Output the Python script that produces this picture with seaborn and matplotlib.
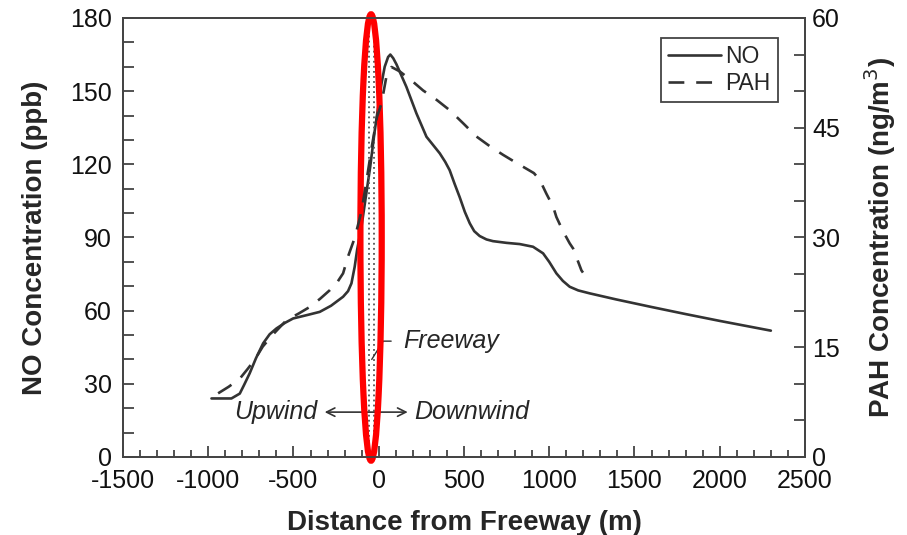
import numpy as np
import pandas as pd
import matplotlib
matplotlib.use('Agg')
import matplotlib.pyplot as plt
import seaborn as sns
from matplotlib.patches import Ellipse
from matplotlib.ticker import MultipleLocator

# data
no_x = [-981, -864, -815, -790, -757, -720, -678, -640, -600, -550, -502, -420, -346,
        -280, -209, -180, -160, -141, -127, -100, -75, -50, -25, 0, 16, 35, 55, 68,
        85, 104, 162, 221, 280, 358, 390, 416, 445, 475, 505, 534, 560, 592, 632, 670,
        749, 827, 905, 964, 1000, 1042, 1080, 1120, 1170, 1237, 1393, 1600, 1800,
        2000, 2150, 2300]
no_ppb = [24, 24, 26, 29.5, 34.3, 40.5, 46.6, 50.3, 52.7, 55, 56.8, 58.2, 59.5,
          62, 65.7, 68, 71.2, 78, 84.8, 95, 107, 119, 133, 145, 153, 160, 164, 165,
          163.5, 161, 151.8, 140.9, 131.3, 124.5, 121, 117.6, 112, 106.5, 100.5, 95.8, 92.6, 90.6,
          89.2, 88.5, 87.8, 87.3, 86.2, 83.5, 80, 75.3, 72.2, 69.8, 68.3, 67.1, 64.6, 61.5, 58.6,
          55.8, 53.8, 51.8]

pah_x = [-942, -880, -815, -770, -727, -680, -610, -541, -470, -405, -345, -287, -240,
         -209, -180, -140, -100, -70, -40, -10, 16, 45, 75, 123, 190, 260, 340, 416,
         500, 573, 650, 729, 800, 866, 910, 944, 983, 1023, 1042, 1080, 1120, 1140,
         1189, 1198]
pah_ng = [8.7, 9.6, 10.7, 12, 13.3, 15.1, 17, 18.7, 19.6, 20.5, 21.6, 22.8, 24,
          25.1, 27.4, 30, 33.7, 38, 42.5, 46.5, 48.3, 52, 53.3, 52.7, 51.5, 50.1, 48.8, 47.4,
          45.5, 43.8, 42.5, 41.3, 40.3, 39.4, 38.8, 37.9, 36, 34.2, 32.8, 30.9, 29.2, 28.5,
          25.5, 25.2]

freeway_edges = [-56, -30]   # m, the two dotted lines of the freeway strip
freeway_mark = (-41, 40)
upwind_end = -317
downwind_end = 170

no_df = pd.DataFrame({'x': no_x, 'y': no_ppb})
pah_df = pd.DataFrame({'x': pah_x, 'y': pah_ng})

sns.set_style('ticks')
plt.rcParams['font.family'] = ['Liberation Sans', 'DejaVu Sans']
plt.rcParams['axes.unicode_minus'] = False

line_col = '#333333'
fig = plt.figure(figsize=(9.07, 5.35), dpi=100)
ax = fig.add_axes([0.1356, 0.1458, 0.7519, 0.8206])
ax2 = ax.twinx()

sns.lineplot(data=no_df, x='x', y='y', ax=ax, sort=False, color=line_col,
             lw=1.9, label='NO', legend=False)
sns.lineplot(data=pah_df, x='x', y='y', ax=ax2, sort=False, color=line_col,
             lw=1.9, label='PAH', legend=False)
ax2.lines[0].set_dashes([6, 4.5])

# freeway strip
for fx in freeway_edges:
    ax.axvline(fx, color='#555555', lw=1.3, ls=(0, (1, 1.8)))

ax.set_xlim(-1500, 2500)
ax.set_ylim(0, 180)
ax2.set_ylim(0, 60)

ax.xaxis.set_major_locator(MultipleLocator(500))
ax.xaxis.set_minor_locator(MultipleLocator(100))
ax.yaxis.set_major_locator(MultipleLocator(30))
ax.yaxis.set_minor_locator(MultipleLocator(10))
ax2.yaxis.set_major_locator(MultipleLocator(15))
ax2.yaxis.set_minor_locator(MultipleLocator(5))

for a in (ax, ax2):
    for s in a.spines.values():
        s.set_color('#444444')
        s.set_linewidth(1.3)
    a.tick_params(which='both', direction='in', colors='#444444', width=1.3,
                  labelsize=18, labelcolor='#111111')
ax.tick_params(axis='x', which='major', length=8, pad=9)
ax.tick_params(axis='x', which='minor', length=5)
ax.tick_params(axis='y', which='both', length=8, pad=8)
ax2.tick_params(axis='y', which='both', length=8, pad=5)
ax.tick_params(top=False, which='both')

ax.set_xlabel('Distance from Freeway (m)', fontsize=20, fontweight='bold', labelpad=12)
ax.set_ylabel('NO Concentration (ppb)', fontsize=20, fontweight='bold', labelpad=16)
ax2.set_ylabel('PAH Concentration (ng/m$^3$)', fontsize=20, fontweight='bold', labelpad=16)

# text annotations
ax.annotate('Freeway', xy=freeway_mark, xytext=(141, 47.5), fontsize=18,
            style='italic', va='center', ha='left',
            arrowprops=dict(arrowstyle='-', color=line_col, lw=1.0, shrinkA=6, shrinkB=0,
                            connectionstyle='angle,angleA=0,angleB=58,rad=0'))
ax.text(-358, 18.4, 'Upwind', fontsize=18, style='italic', va='center', ha='right')
ax.text(211, 18.4, 'Downwind', fontsize=18, style='italic', va='center', ha='left')
ax.annotate('', xy=(upwind_end, 18.4), xytext=(downwind_end, 18.4),
            arrowprops=dict(arrowstyle='<->,head_length=0.6,head_width=0.3',
                            color=line_col, lw=1.2, shrinkA=0, shrinkB=0))

# red highlight
ax.add_patch(Ellipse((-45, 90), 125, 183, fill=False, edgecolor='#ff0000',
                     lw=4.5, clip_on=False, zorder=10))

h1, l1 = ax.get_legend_handles_labels()
h2, l2 = ax2.get_legend_handles_labels()
leg = ax2.legend(h1 + h2, l1 + l2, loc='upper right', bbox_to_anchor=(0.96, 0.955),
                 fontsize=16.5, frameon=True, fancybox=False, framealpha=1,
                 edgecolor='#444444', handlelength=2.3, handletextpad=0.2,
                 borderpad=0.3, labelspacing=0.2, borderaxespad=0)
leg.get_frame().set_linewidth(1.3)

fig.savefig('out.png', dpi=100)
